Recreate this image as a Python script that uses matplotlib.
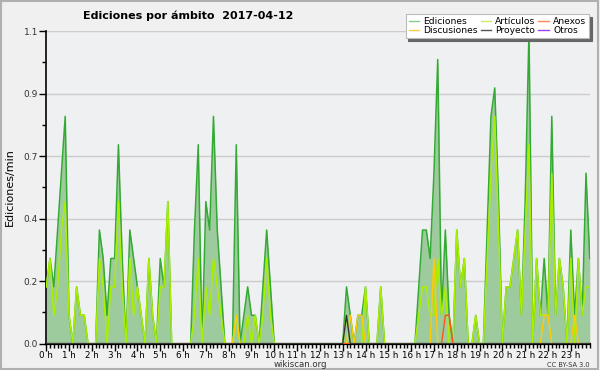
import numpy as np
import matplotlib
matplotlib.use("Agg")
import matplotlib.pyplot as plt
from matplotlib.lines import Line2D
from matplotlib.ticker import FixedLocator, MultipleLocator

# edits per 10-minute bin (144 bins), drawn as edits/min
ediciones = [2, 3, 2, 4, 6, 8, 1, 0, 2, 1, 1, 0, 0, 0, 4, 3, 1, 3, 3, 7,
             3, 0, 4, 3, 2, 1, 0, 3, 1, 0, 3, 2, 5, 0, 0, 0, 0, 0, 0, 4,
             7, 0, 5, 4, 8, 4, 2, 0, 0, 0, 7, 0, 1, 2, 1, 1, 0, 2, 4, 2,
             0, 0, 0, 0, 0, 0, 0, 0, 0, 0, 0, 0, 0, 0, 0, 0, 0, 0, 0, 2,
             1, 0, 1, 1, 2, 0, 0, 0, 2, 0, 0, 0, 0, 0, 0, 0, 0, 0, 2, 4,
             4, 3, 6, 10, 1, 4, 1, 0, 4, 2, 3, 0, 0, 1, 0, 0, 4, 8, 9, 5,
             0, 2, 2, 3, 4, 1, 5, 11, 0, 3, 1, 3, 1, 8, 1, 3, 2, 0, 4, 1,
             3, 1, 6, 3]
articulos = [2, 3, 1, 2, 4, 5, 1, 0, 2, 1, 1, 0, 0, 0, 3, 2, 0, 2, 2, 5,
             2, 0, 3, 1, 2, 1, 0, 3, 1, 0, 2, 2, 5, 0, 0, 0, 0, 0, 0, 1,
             3, 0, 2, 1, 3, 2, 1, 0, 0, 0, 1, 0, 0, 1, 0, 1, 0, 1, 3, 1,
             0, 0, 0, 0, 0, 0, 0, 0, 0, 0, 0, 0, 0, 0, 0, 0, 0, 0, 0, 1,
             0, 0, 0, 0, 2, 0, 0, 0, 2, 0, 0, 0, 0, 0, 0, 0, 0, 0, 1, 2,
             2, 1, 1, 3, 1, 2, 0, 0, 4, 2, 3, 0, 0, 1, 0, 0, 3, 6, 8, 4,
             0, 2, 2, 3, 4, 1, 4, 7, 0, 3, 1, 1, 1, 6, 1, 3, 2, 0, 3, 0,
             3, 1, 2, 2]
discusiones = {50: 1, 80: 1, 82: 1, 83: 1, 102: 3, 131: 1, 132: 1, 139: 1}
anexos = {105: 1, 106: 1}
proyecto = {79: 1}
otros = {}

hour_labels = ["%d h" % h for h in range(24)]
ytick_vals = [0, 0.22, 0.44, 0.66, 0.88, 1.1]


def sparse(d, n=144):
    a = np.zeros(n)
    for k, v in d.items():
        a[k] = v
    return a


x = np.arange(144) / 6.0
ed = np.array(ediciones) / 10.0
art = np.array(articulos) / 10.0

fig = plt.figure(figsize=(6, 3.7), dpi=100, facecolor="#f0f0f0")
fig.patches.append(plt.Rectangle((0.002, 0.003), 0.995, 0.994, transform=fig.transFigure,
                                 fill=False, edgecolor="#b0b0b0", lw=1.5))
ax = fig.add_axes([0.077, 0.071, 0.906, 0.845])
ax.set_facecolor("#eff0f2")

ax.fill_between(x, 0, ed, color="#9ecb9e", lw=0, zorder=2)
ax.plot(x, ed, color="#33aa33", lw=1.1, zorder=3)
ax.plot(x, art, color="#aaee00", lw=1.1, zorder=4)
ax.plot(x, sparse(discusiones) / 10, color="#ffcc00", lw=1, zorder=5)
ax.plot(x, sparse(anexos) / 10, color="#ff5511", lw=1, zorder=6)
ax.plot(x, sparse(proyecto) / 10, color="#333333", lw=1, zorder=7)
ax.plot(x, sparse(otros) / 10, color="#9933ff", lw=1, zorder=1)

ax.set_xlim(0, x[-1])
ax.set_ylim(0, 1.1)
ax.set_xticks(range(24))
ax.set_xticklabels(hour_labels, fontsize=6.3, ha="center")
ax.xaxis.set_minor_locator(MultipleLocator(1 / 6.0))
ax.yaxis.set_major_locator(FixedLocator(ytick_vals))
ax.set_yticklabels(["%.1f" % v for v in ytick_vals], fontsize=6.5, color="#333333")
ax.yaxis.set_minor_locator(MultipleLocator(0.11))
ax.tick_params(axis="x", which="major", length=5, width=1, pad=0)
ax.tick_params(axis="x", which="minor", length=3, width=1)
ax.tick_params(axis="y", which="major", length=5, width=1, pad=1)
ax.tick_params(axis="y", which="minor", length=3, width=1)
ax.grid(axis="y", color="#cccccc", lw=1, zorder=0)
ax.set_axisbelow(True)
for s in ["top", "right"]:
    ax.spines[s].set_visible(False)
ax.spines["left"].set_linewidth(1.2)
ax.spines["bottom"].set_linewidth(1.6)
ax.set_ylabel("Ediciones/min", fontsize=8, labelpad=6)

fig.text(0.313, 0.957, "Ediciones por ámbito  2017-04-12", fontsize=8,
         fontweight="bold", ha="center", va="center")
fig.text(0.5, 0.014, "wikiscan.org", fontsize=6.2, ha="center", va="center", color="#333333")
fig.text(0.983, 0.014, "CC BY-SA 3.0", fontsize=4.8, ha="right", va="center", color="#333333")

handles = [Line2D([], [], color="#88cc88", lw=1, label="Ediciones"),
           Line2D([], [], color="#ffcc44", lw=1, label="Discusiones"),
           Line2D([], [], color="#ccee66", lw=1, label="Artículos"),
           Line2D([], [], color="#555555", lw=1, label="Proyecto"),
           Line2D([], [], color="#ff8855", lw=1, label="Anexos"),
           Line2D([], [], color="#9944ee", lw=1, label="Otros")]
leg = fig.legend(handles=handles, ncol=3, loc="upper right", bbox_to_anchor=(0.99, 0.975),
                 fontsize=6.6, frameon=True, fancybox=False, shadow={"color": "#666666", "alpha": 1},
                 handlelength=1.1, handletextpad=0.5, columnspacing=0.3, labelspacing=0.0,
                 borderpad=0.35, edgecolor="#bbbbbb", framealpha=1)
leg.get_frame().set_linewidth(0.8)

fig.savefig("out.png", dpi=100, facecolor=fig.get_facecolor())
